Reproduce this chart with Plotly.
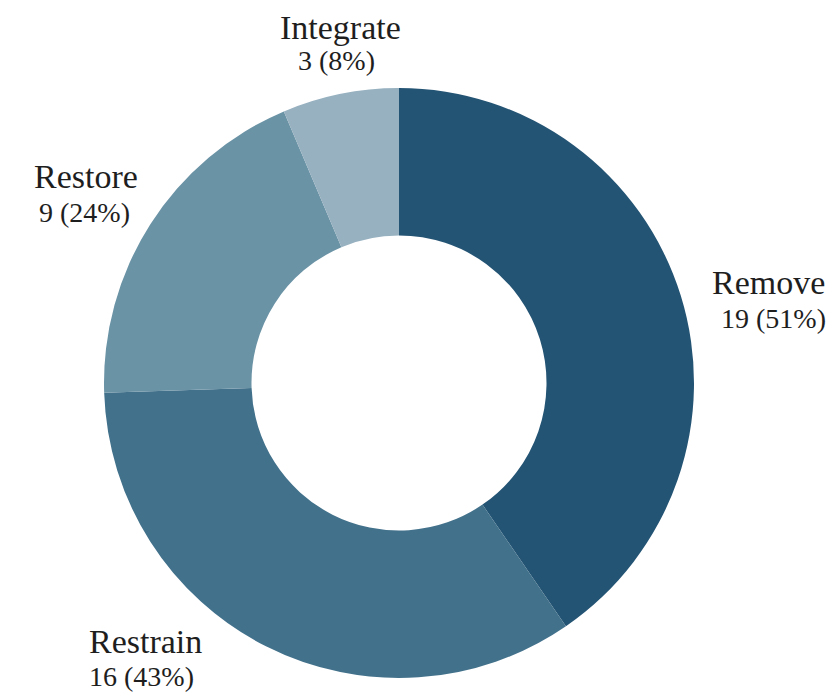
import plotly.graph_objects as go

categories = ["Remove", "Restrain", "Restore", "Integrate"]
counts = [19, 16, 9, 3]
percents = [51, 43, 24, 8]
colors = ["#245474", "#42718b", "#6b93a6", "#97b1c0"]

W, H = 838, 695

fig = go.Figure()
fig.add_trace(go.Pie(
    labels=categories,
    values=counts,
    sort=False,
    direction="clockwise",
    rotation=0,
    hole=0.5,
    marker=dict(colors=colors, line=dict(width=0)),
    textinfo="none",
    hoverinfo="label+value",
    showlegend=False,
    domain=dict(x=[96 / W, 686 / W], y=[1 - 670 / H, 1 - 80 / H]),
))

# label positions in pixels (name centre, value centre)
label_pos = {
    "Remove": ((760, 274), (765, 310)),
    "Restrain": ((137, 633), (133, 668)),
    "Restore": ((78, 168), (76, 205)),
    "Integrate": ((332, 19), (328, 52)),
}

font_family = "Liberation Serif, Times New Roman, serif"
for name, c, p in zip(categories, counts, percents):
    (nx, ny), (vx, vy) = label_pos[name]
    fig.add_annotation(x=nx / W, y=1 - ny / H, xref="paper", yref="paper",
                       text=name, showarrow=False, xanchor="center", yanchor="middle",
                       font=dict(family=font_family, size=34, color="#1e1e1e"))
    fig.add_annotation(x=vx / W, y=1 - vy / H, xref="paper", yref="paper",
                       text=f"{c} ({p}%)", showarrow=False, xanchor="center", yanchor="middle",
                       font=dict(family=font_family, size=28, color="#1e1e1e"))

fig.update_layout(
    width=W, height=H,
    margin=dict(l=0, r=0, t=0, b=0),
    paper_bgcolor="white",
    plot_bgcolor="white",
)

fig.write_html("out.html")
